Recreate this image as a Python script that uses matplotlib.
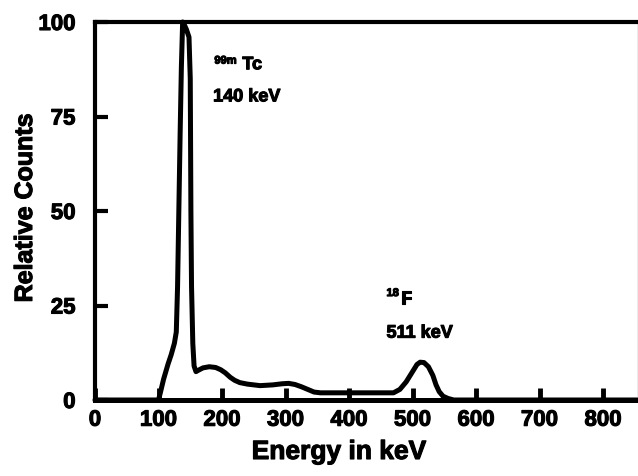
import matplotlib
matplotlib.use("Agg")
import matplotlib.pyplot as plt
import matplotlib.patheffects as pe

# spectrum (energy in keV, relative counts)
energy = [0, 100, 103, 108, 115, 120, 125, 128, 130, 132, 134, 136, 138, 140,
          144, 148, 150, 151, 152, 154, 156, 159, 162, 170, 180, 190, 198, 205,
          213, 220, 228, 240, 260, 280, 295, 305, 315, 325, 335, 345, 355,
          470, 480, 490, 500, 507, 512, 518, 525, 532, 537, 542, 548, 556, 565, 855]
counts = [0, 0, 2, 5.5, 9.5, 12, 15, 18, 30, 50, 70, 88, 100, 99.5,
          98, 96, 85, 50, 30, 15, 9, 7.5, 7.8, 8.5, 8.8, 8.6, 8, 7.2,
          6, 5.2, 4.6, 4.2, 3.8, 4.0, 4.3, 4.4, 4.1, 3.5, 2.8, 2.1, 1.9,
          1.9, 2.8, 4.8, 7.5, 9.4, 10, 9.9, 8.8, 6.5, 4, 2.2, 1.0, 0.4, 0, 0]

x_ticks = [0, 100, 200, 300, 400, 500, 600, 700, 800]
y_ticks = [0, 25, 50, 75, 100]

plt.rcParams["font.family"] = ["Liberation Sans", "DejaVu Sans"]
plt.rcParams["font.weight"] = "bold"

# the scan's lettering is heavier than a normal bold face
heavy = [pe.withStroke(linewidth=0.8, foreground="black")]

fig = plt.figure(figsize=(6.38, 4.76), dpi=100)
ax = fig.add_axes([95 / 638, 76 / 476, 1 - 95 / 638, (400 - 22) / 476])

ax.plot(energy, counts, color="black", linewidth=3.6, clip_on=False,
        solid_joinstyle="round", solid_capstyle="round")

ax.set_xlim(0, 855)
ax.set_ylim(0, 100)
ax.set_xticks(x_ticks)
ax.set_yticks(y_ticks)
ax.set_xticklabels([str(t) for t in x_ticks], fontsize=16, fontweight="bold")
ax.set_yticklabels([str(t) for t in y_ticks], fontsize=16, fontweight="bold")
ax.tick_params(axis="x", direction="in", length=9, width=3.5, pad=7)
ax.tick_params(axis="y", direction="in", length=9, width=3, pad=14)
for lab in ax.get_xticklabels() + ax.get_yticklabels():
    lab.set_path_effects(heavy)

for side in ["left", "top"]:
    ax.spines[side].set_linewidth(3)
ax.spines["bottom"].set_linewidth(3.6)
ax.spines["right"].set_linewidth(1)
ax.spines["right"].set_color("0.6")

fig.text(25 / 638, 1 - 208 / 476, "Relative Counts", rotation=90, fontsize=18,
         fontweight="bold", ha="center", va="center", path_effects=heavy)
fig.text(339 / 638, 1 - 452 / 476, "Energy in keV", fontsize=19,
         fontweight="bold", ha="center", va="center", path_effects=heavy)

# peak annotations
notes = [
    (188, 89, "99m", 8),
    (232, 87.5, "Tc", 13),
    (186, 79, "140 keV", 13),
    (459, 27.5, "18", 8),
    (482, 25.5, "F", 13),
    (459, 16.5, "511 keV", 13),
]
for x, y, s, size in notes:
    ax.text(x, y, s, fontsize=size, fontweight="bold", ha="left", va="baseline",
            path_effects=heavy)

fig.savefig("out.png", dpi=100)
